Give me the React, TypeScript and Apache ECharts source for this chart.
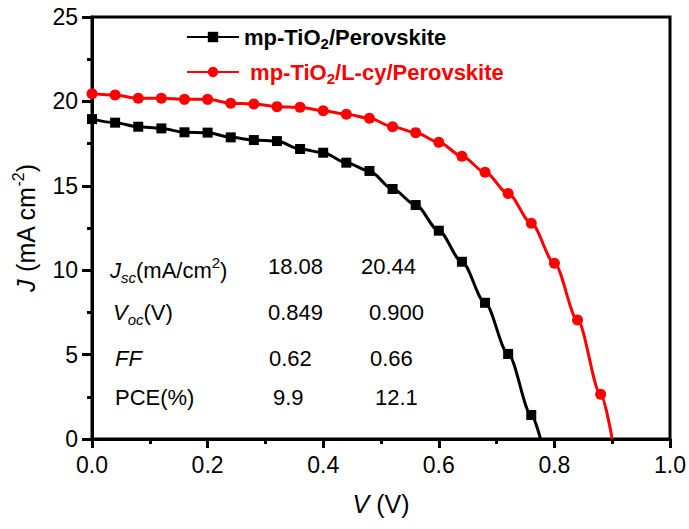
import React, { useEffect, useRef } from 'react';
import * as echarts from 'echarts';

// Voltage (V) of the marked points
const voltageBlack = [0, 0.04, 0.08, 0.12, 0.16, 0.2, 0.24, 0.28, 0.32, 0.36, 0.4, 0.44, 0.48, 0.52, 0.56, 0.6, 0.64, 0.68, 0.72, 0.76];
// Current density (mA cm^-2), mp-TiO2/Perovskite
const currentBlack = [18.95, 18.74, 18.5, 18.4, 18.17, 18.15, 17.87, 17.71, 17.65, 17.18, 16.96, 16.37, 15.88, 14.81, 13.86, 12.34, 10.5, 8.07, 5.04, 1.42];
const vocBlack = 0.776;

const voltageRed = [0, 0.04, 0.08, 0.12, 0.16, 0.2, 0.24, 0.28, 0.32, 0.36, 0.4, 0.44, 0.48, 0.52, 0.56, 0.6, 0.64, 0.68, 0.72, 0.76, 0.8, 0.84, 0.88];
// Current density (mA cm^-2), mp-TiO2/L-cy/Perovskite
const currentRed = [20.45, 20.38, 20.18, 20.18, 20.12, 20.12, 19.89, 19.85, 19.69, 19.65, 19.45, 19.24, 19.0, 18.5, 18.15, 17.58, 16.75, 15.8, 14.55, 12.78, 10.41, 7.05, 2.65];
const vocRed = 0.9;

const seriesNames = ['mp-TiO2/Perovskite', 'mp-TiO2/L-cy/Perovskite'];

// Inset table
const tableLabels = ['{i|J}{isub|sc}{n|(mA/cm}{sup|2}{n|)}', '{i|V}{isub|oc}{n|(V)}', '{i|FF}', '{n|PCE(%)}'];
const tableCol1 = ['18.08', '0.849', '0.62', '9.9'];
const tableCol2 = ['20.44', '0.900', '0.66', '12.1'];

const FONT = "'Liberation Sans', Arial, sans-serif";

export default function App() {
  const ref = useRef<HTMLDivElement>(null);

  useEffect(() => {
    if (!ref.current) return;
    const chart = echarts.init(ref.current, undefined, { renderer: 'svg' });

    const blackData: any[] = voltageBlack.map((v, i) => [v, currentBlack[i]]);
    blackData.push({ value: [vocBlack, 0], symbol: 'none' });
    const redData: any[] = voltageRed.map((v, i) => [v, currentRed[i]]);
    redData.push({ value: [vocRed, 0], symbol: 'none' });

    const tableRich = {
      n: { fontSize: 22, fontFamily: FONT, color: '#000', lineHeight: 30 },
      i: { fontSize: 22, fontFamily: FONT, color: '#000', fontStyle: 'italic', lineHeight: 30 },
      isub: { fontSize: 15, fontFamily: FONT, color: '#000', fontStyle: 'italic', lineHeight: 12, verticalAlign: 'bottom' },
      sup: { fontSize: 15, fontFamily: FONT, color: '#000', lineHeight: 12, verticalAlign: 'top' },
    };

    const rowY = [270, 316, 362, 401];
    const labelX = [110, 113, 115, 115];
    const col1X = [268, 268, 269, 273];
    const col2X = [361, 369, 370, 375];

    const graphics: any[] = [];
    tableLabels.forEach((t, i) => {
      graphics.push({
        type: 'text', left: labelX[i], top: rowY[i] - 15,
        style: { text: t, rich: tableRich, fontSize: 22, fontFamily: FONT, fill: '#000' },
      });
      graphics.push({
        type: 'text', left: col1X[i], top: rowY[i] - 15,
        style: { text: '{n|' + tableCol1[i] + '}', rich: tableRich, fontSize: 22, fontFamily: FONT, fill: '#000' },
      });
      graphics.push({
        type: 'text', left: col2X[i], top: rowY[i] - 15,
        style: { text: '{n|' + tableCol2[i] + '}', rich: tableRich, fontSize: 22, fontFamily: FONT, fill: '#000' },
      });
    });

    const legendRich = (color: string) => ({
      b: { fontSize: 22, fontWeight: 'bold', fontFamily: FONT, color, lineHeight: 28 },
      s: { fontSize: 15, fontWeight: 'bold', fontFamily: FONT, color, lineHeight: 12, verticalAlign: 'bottom' },
    });

    chart.setOption({
      animation: false,
      backgroundColor: '#fff',
      grid: { left: 92, right: 19, top: 17, bottom: 90, show: true, borderColor: '#000', borderWidth: 3, containLabel: false },
      legend: [
        {
          data: [seriesNames[0]], left: 181, top: 21, itemWidth: 52, itemHeight: 13,
          formatter: () => '{b|mp-TiO}{s|2}{b|/Perovskite}',
          textStyle: { rich: legendRich('#000') },
        },
        {
          data: [seriesNames[1]], left: 181, top: 56, itemWidth: 52, itemHeight: 13,
          formatter: () => '{b| mp-TiO}{s|2}{b|/L-cy/Perovskite}',
          textStyle: { rich: legendRich('#ff0000') },
        },
      ],
      xAxis: {
        type: 'value', min: 0, max: 1, interval: 0.2,
        axisLine: { show: true, lineStyle: { color: '#000', width: 3 } },
        axisTick: { show: true, length: 9, lineStyle: { color: '#000', width: 3 } },
        minorTick: { show: true, splitNumber: 2, length: 5, lineStyle: { color: '#000', width: 3 } },
        splitLine: { show: false },
        axisLabel: { formatter: (v: number) => v.toFixed(1), fontSize: 23, color: '#000', fontFamily: FONT, margin: 14 },
        name: '{i|V} (V)', nameLocation: 'middle', nameGap: 52,
        nameTextStyle: {
          fontSize: 25, color: '#000', fontFamily: FONT,
          rich: { i: { fontSize: 25, fontStyle: 'italic', color: '#000', fontFamily: FONT } },
        },
      },
      yAxis: {
        type: 'value', min: 0, max: 25, interval: 5,
        axisLine: { show: true, lineStyle: { color: '#000', width: 3 } },
        axisTick: { show: true, length: 10, lineStyle: { color: '#000', width: 3 } },
        minorTick: { show: true, splitNumber: 2, length: 5, lineStyle: { color: '#000', width: 3 } },
        splitLine: { show: false },
        axisLabel: { fontSize: 23, color: '#000', fontFamily: FONT, margin: 14 },
        name: '{i|J} (mA cm{sup|-2})', nameLocation: 'middle', nameGap: 50,
        nameTextStyle: {
          fontSize: 25, color: '#000', fontFamily: FONT,
          rich: {
            i: { fontSize: 25, fontStyle: 'italic', color: '#000', fontFamily: FONT, lineHeight: 32 },
            sup: { fontSize: 16, color: '#000', fontFamily: FONT, lineHeight: 14, verticalAlign: 'top' },
          },
        },
      },
      series: [
        {
          name: seriesNames[0], type: 'line', data: blackData,
          symbol: 'rect', symbolSize: 10, showAllSymbol: true,
          smooth: 0.3, smoothMonotone: 'x',
          lineStyle: { color: '#000', width: 3 }, itemStyle: { color: '#000' },
        },
        {
          name: seriesNames[1], type: 'line', data: redData,
          symbol: 'circle', symbolSize: 11, showAllSymbol: true,
          smooth: 0.3, smoothMonotone: 'x',
          lineStyle: { color: '#ff0000', width: 3 }, itemStyle: { color: '#ff0000' },
        },
      ],
      graphic: graphics,
    });

    return () => chart.dispose();
  }, []);

  return <div ref={ref} style={{ position: 'fixed', left: 0, top: 0, width: 689, height: 529 }} />;
}
